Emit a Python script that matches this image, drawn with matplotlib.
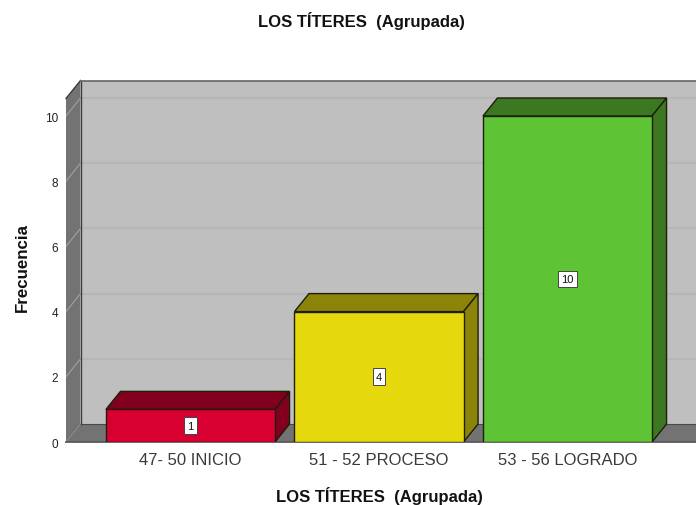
import matplotlib
matplotlib.use('Agg')
import matplotlib.pyplot as plt
from matplotlib.patches import Polygon, Rectangle

plt.rcParams['font.family'] = ['Liberation Sans', 'DejaVu Sans']

# values
categories = ['47- 50 INICIO', '51 - 52 PROCESO', '53 - 56 LOGRADO']
counts = [1, 4, 10]
y_ticks = [0, 2, 4, 6, 8, 10]
front_colors = ['#d70030', '#e5d80c', '#5ec436']
top_colors = ['#82001e', '#8c8408', '#3c7822']
title = 'LOS TÍTERES  (Agrupada)'
y_name = 'Frecuencia'

# chart frame, in pixels of the 696x506 picture
W, H = 696, 506
LEFT, BOTTOM, TOP = 66, 443, 81.5
UNIT_X, UNIT_Y = 188.5, 32.6
FIRST_X = 190.5
bar_width = 0.897
dx = 14.5 / UNIT_X
dy = 18 / UNIT_Y

fig = plt.figure(figsize=(W / 100, H / 100), dpi=100, facecolor='white')
ax = fig.add_axes([LEFT / W, 1 - BOTTOM / H, (W - LEFT) / W, (BOTTOM - TOP) / H])
ax.set_xlim((LEFT - FIRST_X) / UNIT_X, (W - FIRST_X) / UNIT_X)
ax.set_ylim(0, (BOTTOM - TOP) / UNIT_Y)
x0, x1 = ax.get_xlim()
y1 = ax.get_ylim()[1]
ax.patch.set_visible(False)
for s in ax.spines.values():
    s.set_visible(False)

# back wall, side wall and floor
ax.add_patch(Rectangle((x0 + dx, dy), x1 - x0, y1 - dy, fc='#bfbfbf', ec='none', zorder=1))
ax.add_patch(Polygon([(x0, 0), (x0 + dx, dy), (x0 + dx, y1), (x0, y1 - dy)], fc='#737373', ec='none', zorder=2))
ax.add_patch(Polygon([(x0, 0), (x0 + dx, dy), (x1, dy), (x1, 0)], fc='#737373', ec='none', zorder=2))
ax.plot([x0 + dx, x0 + dx], [dy, y1], color='#3c3c3c', lw=1, zorder=3)
ax.plot([x0, x0 + dx], [y1 - dy, y1], color='#3c3c3c', lw=1, zorder=3, clip_on=False)
ax.plot([x0 + dx, x1], [dy, dy], color='#4a4a4a', lw=0.8, zorder=2)
ax.plot([x0 + dx, x1], [y1, y1], color='#6e6e6e', lw=1.3, zorder=3, clip_on=False)
ax.plot([x0, x1], [0, 0], color='#5a5a5a', lw=1.3, zorder=3, clip_on=False)

# grid lines
for t in y_ticks[1:]:
    ax.plot([x0 + dx, x1], [t + dy, t + dy], color='#b6b6b6', lw=1.5, zorder=1.5)
    ax.plot([x0, x0 + dx], [t, t + dy], color='#a0a0a0', lw=0.8, zorder=2.5)

# bars with their top and side faces
for i, v in enumerate(counts):
    l = i - bar_width / 2
    r = i + bar_width / 2
    ax.add_patch(Polygon([(l, v), (l + dx, v + dy), (r + dx, v + dy), (r, v)], fc=top_colors[i], ec='#1e1e0a', lw=1, zorder=4))
    ax.add_patch(Polygon([(r, 0), (r + dx, dy), (r + dx, v + dy), (r, v)], fc=top_colors[i], ec='#1e1e0a', lw=1, zorder=4))
    ax.bar(i, v, bar_width, color=front_colors[i], edgecolor='#1e1e0a', lw=1, zorder=5)
    ax.text(i, v / 2, str(v), ha='center', va='center', fontsize=8, color='#111111', zorder=6,
            bbox=dict(boxstyle='square,pad=0.3', fc='white', ec='#444444', lw=0.7))

ax.set_xticks(range(len(categories)))
ax.set_xticklabels(categories, fontsize=12, color='#3a3a3a')
ax.set_yticks(y_ticks)
ax.set_yticklabels([str(t) for t in y_ticks], fontsize=8.5, color='#222222')
ax.tick_params(axis='both', length=0)
ax.tick_params(axis='x', pad=7)
ax.tick_params(axis='y', pad=5.5)

fig.text(361.5 / W, 1 - 21 / H, title, ha='center', va='center', fontsize=12, fontweight='bold', color='#111111')
fig.text(379.5 / W, 1 - 496 / H, title, ha='center', va='center', fontsize=12, fontweight='bold', color='#111111')
fig.text(22 / W, 1 - 268 / H, y_name, ha='center', va='center', rotation=90, fontsize=12.2, fontweight='bold', color='#111111')

fig.savefig('out.png', dpi=100)
